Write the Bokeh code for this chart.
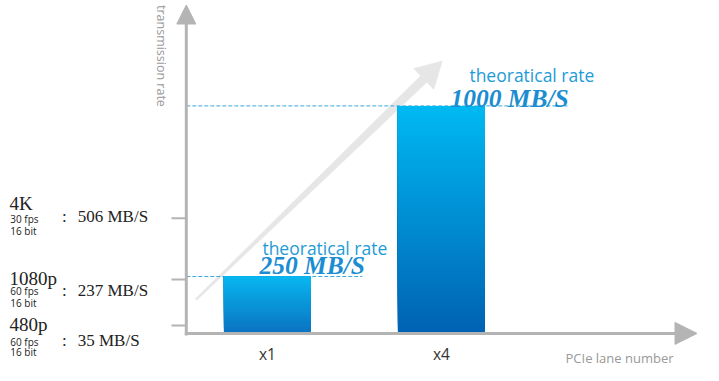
import numpy as np
from bokeh.plotting import figure
from bokeh.models import Range1d, Arrow, NormalHead
from bokeh.core.properties import value
from bokeh.embed import file_html
from bokeh.resources import INLINE

# ---------------- data ----------------
lanes = ["x1", "x4"]
rates = [250, 1000]
rate_labels = ["250 MB/S", "1000 MB/S"]
rate_caption = "theoratical rate"

video_names = ["4K", "1080p", "480p"]
video_fps = ["30 fps", "60 fps", "60 fps"]
video_bits = ["16 bit", "16 bit", "16 bit"]
video_rates = [506, 237, 35]
video_rate_labels = ["506 MB/S", "237 MB/S", "35 MB/S"]

y_title = "transmission rate"
x_title = "PCIe lane number"

# ---------------- layout (pixels) ----------------
W, H = 703, 365
PX_X = 174.0      # px per lane slot
PX_Y = 0.2275     # px per MB/s
X0_PX = 266.9     # canvas x of first lane centre
Y0_PX = 332.9     # canvas y of zero


def cx(px):
    return 1 + (px - X0_PX) / PX_X


def cy(px):
    return (Y0_PX - px) / PX_Y


def ddx(px):
    return px / PX_X


def ddy(px):
    return px / PX_Y


AX = "#b4b4b4"
CYAN_T = "#1e9bd7"
CYAN_V = "#1b8dd0"
DARK = "#222222"

p = figure(width=W, height=H, output_backend="svg", toolbar_location=None,
           x_range=Range1d(cx(0), cx(W)), y_range=Range1d(cy(H), cy(0)),
           min_border=0, x_axis_location=None, y_axis_location=None)
p.grid.visible = False
p.outline_line_color = None
p.background_fill_color = "white"

xpos = np.arange(1, len(lanes) + 1, dtype=float)
axis_x = cx(185.8)

# ---- big light diagonal arrow (decoration, behind bars) ----
sx, sy = 195.6, 299.0
tx, ty = 441.9, 60.4
L = np.hypot(tx - sx, ty - sy)
ux, uy = (tx - sx) / L, (ty - sy) / L
nx, ny = -uy, ux
hb = 26.0
bx, by = tx - hb * ux, ty - hb * uy
pts = [
    (sx + 1.0 * nx, sy + 1.0 * ny),
    (bx + 4.5 * nx, by + 4.5 * ny),
    (bx + 14.5 * nx, by + 14.5 * ny),
    (tx, ty),
    (bx - 14.5 * nx, by - 14.5 * ny),
    (bx - 4.5 * nx, by - 4.5 * ny),
    (sx - 1.0 * nx, sy - 1.0 * ny),
]
p.patch([cx(a) for a, b in pts], [cy(b) for a, b in pts],
        fill_color="#e6e6e6", line_color="#e6e6e6", line_width=0.5)

# ---- dashed reference lines ----
dash_end = [95, 126]  # px right of bar centre
p.segment(x0=[axis_x] * len(rates), y0=rates,
          x1=[x + ddx(d) for x, d in zip(xpos, dash_end)], y1=rates,
          line_color="#3aa9dc", line_width=1, line_dash="4 2")

# ---- gradient bars (stacked overlapping strips, bottom to top) ----
top_cols = [(0x08, 0xb6, 0xf0), (0x00, 0xb9, 0xf2)]
bot_cols = [(0x0b, 0x72, 0xc0), (0x00, 0x62, 0xb2)]
bar_w = 0.5
for x, v, tc, bc in zip(xpos, rates, top_cols, bot_cols):
    n = max(12, int(round(v * PX_Y / 2.5)))
    fr = np.linspace(0, 1, n + 1)[:-1]
    bottoms = v * fr
    tops = [v] * n
    tc = np.array(tc, dtype=float)
    bc = np.array(bc, dtype=float)
    cols = []
    for t in fr + 0.5 / n:
        c = bc + (tc - bc) * t
        cols.append("#%02x%02x%02x" % tuple(int(round(k)) for k in c))
    p.quad(left=x - bar_w / 2, right=x + bar_w / 2, bottom=bottoms, top=tops,
           fill_color=cols, line_color=None)

# ---- bar annotations ----
cap_dx = [-5, 28]
cap_dy = [29, 31]
val_dx = [-8, 9]
val_dy = [11, 7]
p.text(x=[x + ddx(d) for x, d in zip(xpos, cap_dx)],
       y=[v + ddy(d) for v, d in zip(rates, cap_dy)],
       text=[rate_caption] * len(rates), text_font=value("Open Sans"),
       text_font_size="17.5px", text_color=CYAN_T, text_align="left",
       text_baseline="alphabetic")
p.text(x=[x + ddx(d) for x, d in zip(xpos, val_dx)],
       y=[v + ddy(d) for v, d in zip(rates, val_dy)],
       text=rate_labels, text_font=value("Liberation Serif"),
       text_font_style="bold italic", text_font_size="25.5px",
       text_color=CYAN_V, text_align="left", text_baseline="alphabetic")

# ---- axes ----
p.add_layout(Arrow(end=NormalHead(size=19, fill_color=AX, line_color=AX),
                   x_start=axis_x, y_start=cy(335), x_end=axis_x, y_end=cy(4.5),
                   line_color=AX, line_width=3))
p.add_layout(Arrow(end=NormalHead(size=22, fill_color=AX, line_color=AX),
                   x_start=cx(184.3), y_start=0, x_end=cx(696.5), y_end=0,
                   line_color=AX, line_width=3))

# ticks at the video rates
p.segment(x0=[cx(171)] * len(video_rates), y0=video_rates,
          x1=[axis_x] * len(video_rates), y1=video_rates,
          line_color=AX, line_width=2)

# lane labels
p.text(x=xpos, y=[cy(353.5)] * len(lanes), text=lanes,
       text_font=value("Open Sans"), text_font_size="15.5px",
       text_color="#333333", text_align="center", text_baseline="alphabetic")

# axis titles
p.text(x=[cx(161.3)], y=[cy(4.5)], text=[y_title], angle=-np.pi / 2,
       text_font=value("Open Sans"), text_font_size="12.5px",
       text_color="#999999", text_align="left", text_baseline="middle")
p.text(x=[cx(565)], y=[cy(357)], text=[x_title],
       text_font=value("Open Sans"), text_font_size="13px",
       text_color="#999999", text_align="left", text_baseline="alphabetic")

# ---- left legend of video rates ----
name_dy = [-15, -1, -0.5]
fps_dy = [0.5, 11.3, 16.2]
bit_dy = [13, 23.7, 26.2]
val2_dy = [-1.3, 11.3, 15.2]
p.text(x=[cx(9)] * 3, y=[v - ddy(d) for v, d in zip(video_rates, name_dy)],
       text=video_names, text_font=value("Liberation Serif"),
       text_font_size="19px", text_color=DARK, text_align="left",
       text_baseline="alphabetic")
p.text(x=[cx(9.8)] * 3, y=[v - ddy(d) for v, d in zip(video_rates, fps_dy)],
       text=video_fps, text_font=value("Open Sans"),
       text_font_size="10px", text_color=DARK, text_align="left",
       text_baseline="alphabetic")
p.text(x=[cx(9.8)] * 3, y=[v - ddy(d) for v, d in zip(video_rates, bit_dy)],
       text=video_bits, text_font=value("Open Sans"),
       text_font_size="10px", text_color=DARK, text_align="left",
       text_baseline="alphabetic")
p.text(x=[cx(61.6)] * 3, y=[v - ddy(d) for v, d in zip(video_rates, val2_dy)],
       text=[":"] * 3, text_font=value("Liberation Serif"),
       text_font_size="17px", text_color=DARK, text_align="left",
       text_baseline="alphabetic")
p.text(x=[cx(77.2)] * 3, y=[v - ddy(d) for v, d in zip(video_rates, val2_dy)],
       text=video_rate_labels, text_font=value("Liberation Serif"),
       text_font_size="17px", text_color=DARK, text_align="left",
       text_baseline="alphabetic")

open("out.html", "w").write(file_html(p, INLINE))
